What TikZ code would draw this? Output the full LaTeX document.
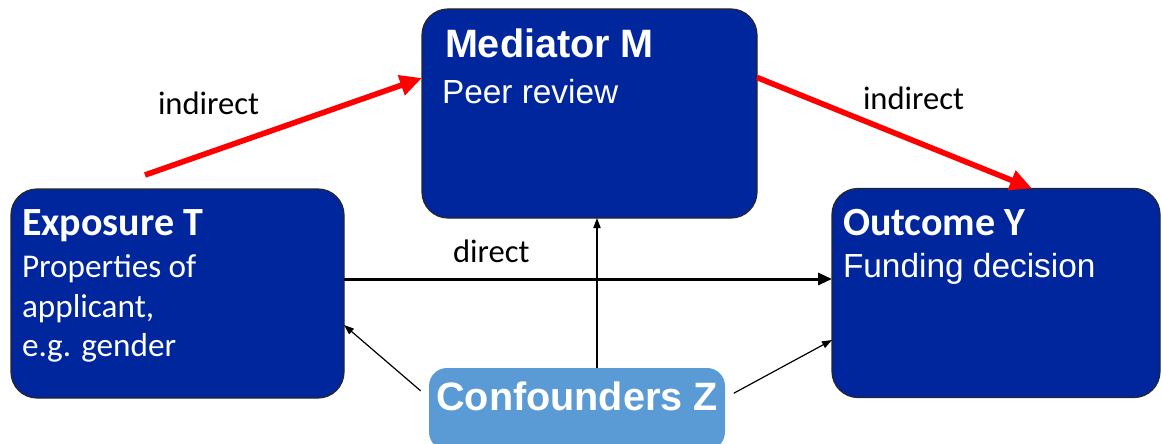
\documentclass[tikz,border=0pt]{standalone}
\usepackage{fontspec}
\setmainfont{Carlito}
\newfontfamily\arialfont{Liberation Sans}
\usetikzlibrary{arrows.meta, positioning}

\definecolor{boxblue}{RGB}{0,38,158}
\definecolor{zblue}{RGB}{91,155,213}
\definecolor{pathred}{RGB}{255,0,0}

\begin{document}
\begin{tikzpicture}[
            x=0.5pt,
            y=-0.5pt,
            >=Stealth,
            inner sep=0pt,
            outer sep=0pt
        ]
        \tikzstyle{box}=[draw=black!85, fill=boxblue, line width=0.6pt, rounded corners=13pt, minimum height=104.5pt]
        \tikzstyle{zbox}=[fill=zblue, rounded corners=9pt, minimum width=148pt, minimum height=41pt]
        \tikzstyle{calhead}=[text=white, anchor=base west, font=\fontsize{20}{22}\selectfont\bfseries]
        \tikzstyle{calbody}=[text=white, anchor=base west, font=\fontsize{16.6}{19}\selectfont]
        \tikzstyle{arihead}=[text=white, anchor=base west, font=\arialfont\fontsize{19.8}{22}\selectfont\bfseries]
        \tikzstyle{aribody}=[text=white, anchor=base west, font=\arialfont\fontsize{16.7}{19}\selectfont]
        \tikzstyle{lbl}=[text=black, anchor=base west, font=\fontsize{16.3}{19}\selectfont]
        \tikzstyle{indirect}=[->, draw=pathred, line width=2.8pt, >={Triangle[length=11pt, width=10pt]}]
        \tikzstyle{direct}=[->, draw=black, line width=1.5pt, >={Triangle[length=7pt, width=6pt]}]
        \tikzstyle{confound}=[->, draw=black, line width=0.6pt, >={Triangle[length=5pt, width=3.6pt]}]

        \clip (0,0) rectangle (1162,444);

        % boxes
        \node[box, minimum width=166.5pt] (T) at (177.5,293.5) {};
        \node[box, minimum width=167.5pt] (M) at (589.5,113.5) {};
        \node[box, minimum width=164pt] (Y) at (996,293) {};
        \node[zbox] (Z) at (577,409) {};

        % box texts
        \node[calhead] (T1) at (22,235) {Exposure T};
        \node[calbody] (T2) at (22,277) {Properties of};
        \node[calbody] (T3) at (22,317) {applicant,};
        \node[calbody] (T4) at (22,356) {e.g. gender};
        \node[arihead] (M1) at (445,58) {Mediator M};
        \node[aribody] (M2) at (442,104) {Peer review};
        \node[calhead] (Y1) at (843,235) {Outcome Y};
        \node[aribody] (Y2) at (843,277) {Funding decision};
        \node[text=white, anchor=base, font=\arialfont\fontsize{19.8}{22}\selectfont\bfseries] (Z1) at (577,410) {Confounders Z};

        % paths
        \coordinate (tail) at (145,175);
        \draw[indirect] (tail) -- ([yshift=17.75pt]M.west);
        \draw[indirect] ([yshift=18pt]M.east) -- ([xshift=18pt]Y.north);
        \draw[direct] ([yshift=7.25pt]T.east) -- ([yshift=7pt]Y.west);
        \draw[confound, shorten <=5.5pt] ([yshift=5.5pt]Z.west) -- ([yshift=-15.75pt]T.east);
        \draw[confound, shorten <=5pt] ([yshift=5.5pt]Z.east) -- ([yshift=-23.5pt]Y.west);
        \draw[confound] ([xshift=10pt]Z.north) -- ([xshift=10pt]Z.north |- M.south);

        \node[lbl] (L1) at (158,115) {indirect};
        \node[lbl] (L2) at (863,110) {indirect};
        \node[lbl] (L3) at (453,262) {direct};
    \end{tikzpicture}
\end{document}
